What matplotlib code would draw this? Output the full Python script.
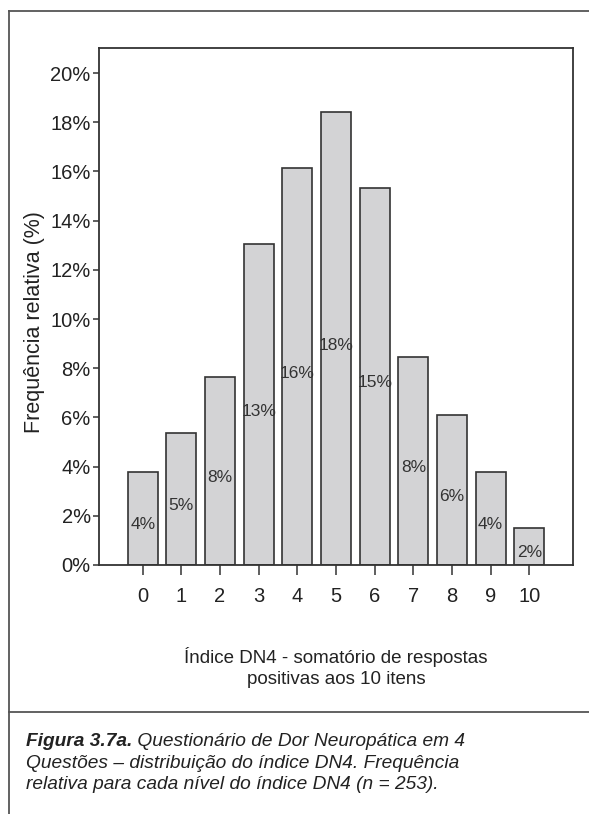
import matplotlib
matplotlib.use("Agg")
import matplotlib.pyplot as plt
from matplotlib.lines import Line2D
from matplotlib.ticker import FuncFormatter

# Valores (frequência relativa em %)
dn4_levels = [0, 1, 2, 3, 4, 5, 6, 7, 8, 9, 10]
rel_freq = [3.79, 5.38, 7.65, 13.04, 16.13, 18.41, 15.34, 8.46, 6.10, 3.79, 1.52]
bar_labels = ["4%", "5%", "8%", "13%", "16%", "18%", "15%", "8%", "6%", "4%", "2%"]
y_ticks = [0, 2, 4, 6, 8, 10, 12, 14, 16, 18, 20]

ylabel = "Frequência relativa (%)"
xlabel_lines = ["Índice DN4 - somatório de respostas", "positivas aos 10 itens"]
caption_bold = "Figura 3.7a."
caption_lines = [
    " Questionário de Dor Neuropática em 4",
    "Questões – distribuição do índice DN4. Frequência",
    "relativa para cada nível do índice DN4 (n = 253).",
]

W, H = 589, 814
plt.rcParams["font.family"] = ["Liberation Sans", "DejaVu Sans"]

fig = plt.figure(figsize=(W / 100, H / 100), dpi=100)
fig.patch.set_facecolor("white")


def fx(px):
    return px / W


def fy(py):
    return 1 - py / H


# moldura externa da figura
frame_kw = dict(color="#555555", linewidth=1.3, transform=fig.transFigure)
fig.add_artist(Line2D([fx(9), 1.0], [fy(11), fy(11)], **frame_kw))
fig.add_artist(Line2D([fx(9), fx(9)], [fy(11), 0.0], **frame_kw))
fig.add_artist(Line2D([fx(9), 1.0], [fy(712), fy(712)], **frame_kw))

ax = fig.add_axes([fx(99), fy(565), fx(573) - fx(99), fy(47.7) - fy(565)])

ax.bar(dn4_levels, rel_freq, width=0.78, color="#d3d3d5",
       edgecolor="#333333", linewidth=1.2, zorder=2)

for x, v, lab in zip(dn4_levels, rel_freq, bar_labels):
    ax.annotate(lab, (x, v / 2), xytext=(0, -6.5), textcoords="offset pixels",
                ha="center", va="center", fontsize=12.5, color="#333333",
                family=["Liberation Sans Narrow", "Liberation Sans"], zorder=3)

ax.set_xlim(-1.13, 11.13)
ax.set_ylim(0, 21.03)
ax.set_xticks(dn4_levels)
ax.set_yticks(y_ticks)
ax.yaxis.set_major_formatter(FuncFormatter(lambda v, p: f"{v:.0f}%"))

for s in ax.spines.values():
    s.set_color("#333333")
    s.set_linewidth(1.3)

ax.tick_params(axis="y", length=4.5, width=1.1, pad=1.5, labelsize=14.5,
               color="#333333", labelcolor="#222222")
ax.tick_params(axis="x", length=7, width=1.1, pad=8.5, labelsize=14.5,
               color="#333333", labelcolor="#222222")

# título do eixo y
fig.text(fx(35), fy(322), ylabel, rotation=90, ha="center", va="center",
         fontsize=15.5, color="#222222")

# rótulo do eixo x (duas linhas centradas sob o eixo)
cx = fx(336)
fig.text(cx, fy(662.7), xlabel_lines[0], ha="center", va="baseline",
         fontsize=13.5, color="#222222")
fig.text(cx, fy(684.3), xlabel_lines[1], ha="center", va="baseline",
         fontsize=13.5, color="#222222")

# legenda da figura
cap_size = 13.8
t0 = fig.text(fx(26), fy(746), caption_bold, ha="left", va="baseline",
              fontsize=cap_size, fontweight="bold", fontstyle="italic",
              color="#222222")
renderer = fig.canvas.get_renderer()
bb = t0.get_window_extent(renderer=renderer)
fig.text(bb.x1 / W, fy(746), caption_lines[0], ha="left", va="baseline",
         fontsize=cap_size, fontstyle="italic", color="#222222")
fig.text(fx(26), fy(767.5), caption_lines[1], ha="left", va="baseline",
         fontsize=cap_size, fontstyle="italic", color="#222222")
fig.text(fx(26), fy(789), caption_lines[2], ha="left", va="baseline",
         fontsize=cap_size, fontstyle="italic", color="#222222")

fig.savefig("out.png", dpi=100)
plt.close(fig)
